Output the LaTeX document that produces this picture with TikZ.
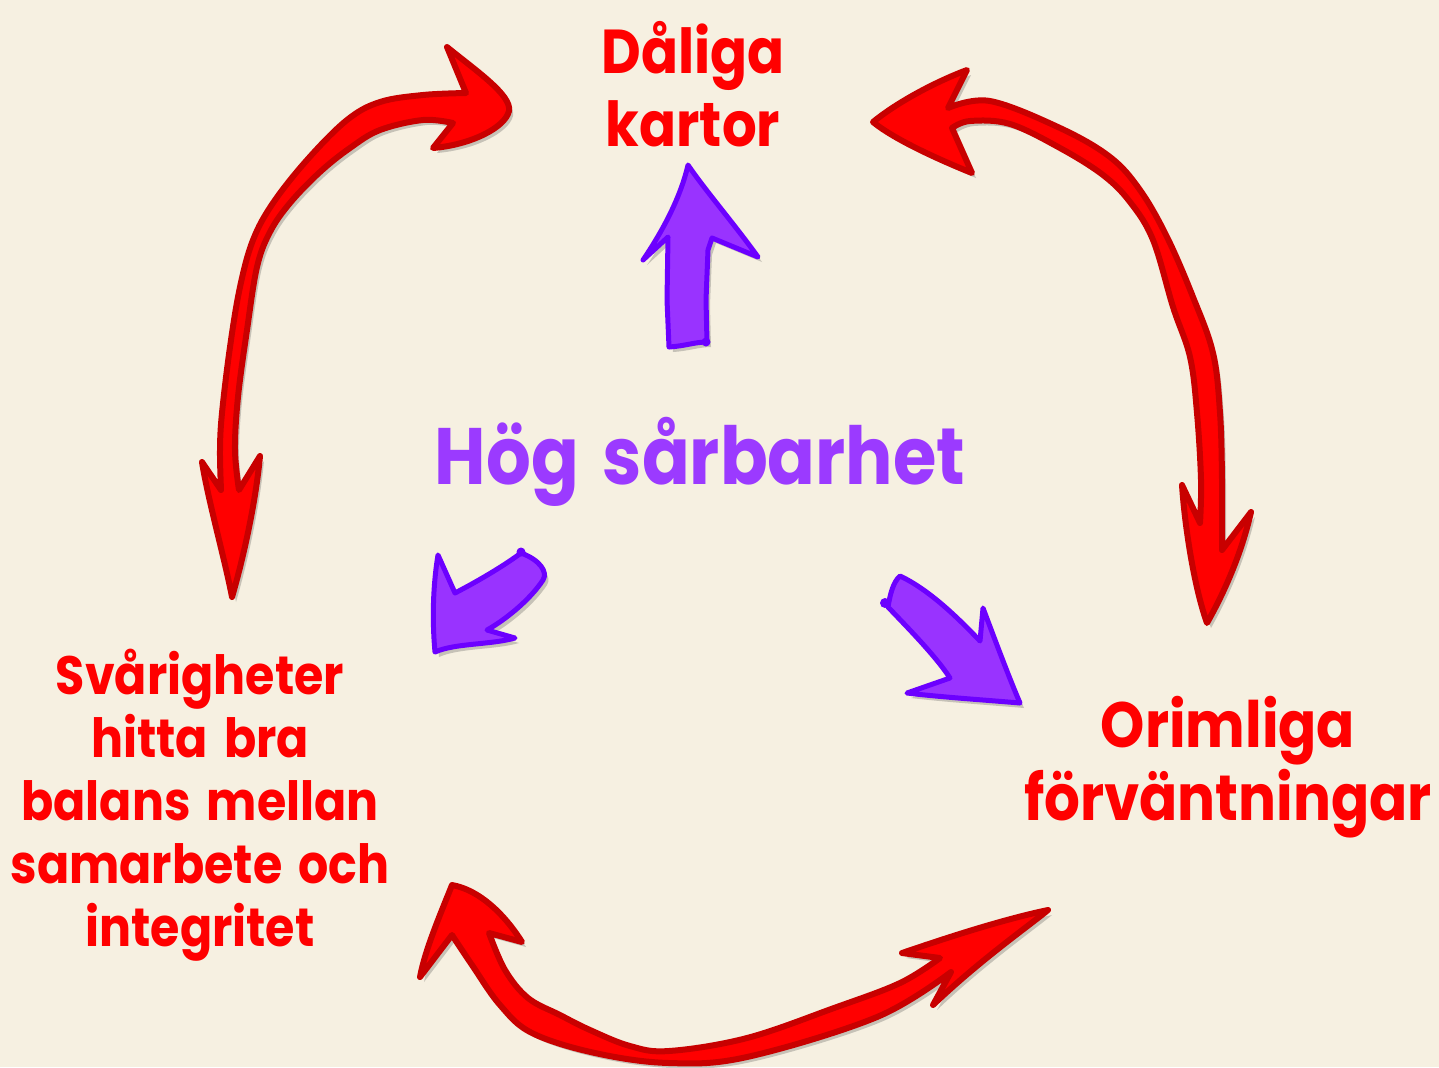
\documentclass[tikz,border=0pt]{standalone}
\usepackage{fontspec}
\setmainfont{Poppins}[FakeStretch=0.88, WordSpace=1.6]
\usetikzlibrary{shadows}

\definecolor{paper}{RGB}{246,240,225}
\definecolor{redfill}{RGB}{255,0,0}
\definecolor{redline}{RGB}{200,0,0}
\definecolor{violetfill}{RGB}{153,51,255}
\definecolor{violetline}{RGB}{108,0,255}
\definecolor{violettext}{RGB}{155,58,255}

\tikzset{
  softshadow/.style={drop shadow={shadow xshift=2pt, shadow yshift=-2.5pt, opacity=0.28, fill=black!70}},
  redarrow/.style={fill=redfill, draw=redline, line width=3pt, line join=round, softshadow},
  violetarrow/.style={fill=violetfill, draw=violetline, line width=2.5pt, line join=round, line cap=round, softshadow},
  tailblob/.style={fill=violetline},
  redlabel/.style={text=redfill, align=center, inner sep=0pt},
  violetlabel/.style={text=violettext, align=center, inner sep=0pt},
}

\begin{document}
\begin{tikzpicture}[x={(0.5pt,0)}, y={(0,-0.5pt)}]
  % paper background
  \fill[paper] (0,0) rectangle (1439,1067);
  \useasboundingbox (0,0) rectangle (1439,1067);

  % ---------- red double-headed arrows ----------
  % left arc: Svårigheter <-> Dåliga kartor
  \path[redarrow] (232,597) .. controls (225,560) and (208,500) .. (202,462) -- (221,490)
    -- plot[smooth, tension=0.6] coordinates {(221,490) (220,450) (222,413) (230,347) (240,287) (253,240) (273,203) (307,160) (347,120) (380,102) (423,95) (466,93)}
    -- (447,47) .. controls (475,70) and (512,95) .. (509,111) .. controls (505,128) and (470,145) .. (433,148)
    -- (453,123)
    -- plot[smooth, tension=0.6] coordinates {(453,123) (423,120) (380,130) (350,148) (320,172) (290,203) (270,232) (257,267) (247,330) (238,397) (235,450) (239,490)}
    -- (260,456) .. controls (255,510) and (240,570) .. (232,597) -- cycle;

  % right arc: Dåliga kartor <-> Orimliga förväntningar
  \path[redarrow] (873,122) .. controls (900,100) and (940,80) .. (967,70) -- (948,108)
    -- plot[smooth, tension=0.6] coordinates {(948,108) (990,101) (1060,128) (1110,157) (1140,190) (1167,237) (1193,297) (1213,353) (1220,413) (1222,480) (1222,550)}
    -- (1251,512) .. controls (1240,560) and (1220,600) .. (1207,623) .. controls (1195,590) and (1185,530) .. (1182,485)
    -- (1200,523)
    -- plot[smooth, tension=0.6] coordinates {(1200,523) (1201,480) (1197,413) (1190,357) (1173,307) (1153,240) (1130,202) (1103,175) (1060,148) (1010,124) (970,121) (952,128)}
    -- (972,173) .. controls (940,160) and (895,140) .. (873,122) -- cycle;

  % bottom arc: Svårigheter <-> Orimliga förväntningar
  \path[redarrow] (452,885) .. controls (440,915) and (425,950) .. (420,977) -- (452,935)
    -- plot[smooth, tension=0.6] coordinates {(452,935) (472,965) (500,1005) (532,1033) (595,1053) (669,1063) (747,1057) (877,1017) (951,972)}
    -- (933,1005) .. controls (980,960) and (1030,925) .. (1048,910) .. controls (1000,920) and (940,940) .. (902,953)
    -- (940,958)
    -- plot[smooth, tension=0.6] coordinates {(940,958) (900,983) (834,1008) (747,1038) (669,1051) (630,1046) (590,1030) (560,1015) (528,998) (505,970) (489,933)}
    -- (522,942) .. controls (505,915) and (480,890) .. (452,885) -- cycle;

  % ---------- violet block arrows ----------
  % up
  \path[violetarrow] (688,165) .. controls (680,200) and (660,235) .. (643,260) -- (668,237)
    -- (667,300) -- (669,347) .. controls (685,346) and (695,342) .. (707,342)
    -- (706,300) -- (708,250) -- (712,238) -- (758,257) .. controls (735,225) and (705,190) .. (688,165) -- cycle;
  \fill[tailblob] (706,342) circle (4.5);

  % down-left
  \path[violetarrow] (435,652) .. controls (432,620) and (433,585) .. (438,555) -- (455,593)
    .. controls (480,580) and (505,565) .. (521,553) .. controls (540,560) and (548,572) .. (543,580)
    .. controls (530,600) and (505,620) .. (487,630) -- (515,638)
    .. controls (490,645) and (455,643) .. (435,652) -- cycle;
  \fill[tailblob] (521,552) circle (4.5);

  % down-right
  \path[violetarrow] (900,576) .. controls (930,590) and (960,620) .. (980,641) -- (983,608)
    .. controls (995,640) and (1010,680) .. (1020,703) .. controls (985,700) and (940,697) .. (907,693)
    -- (950,678) .. controls (935,655) and (905,625) .. (888,607)
    .. controls (890,595) and (893,582) .. (900,576) -- cycle;
  \fill[tailblob] (885,603) circle (5);

  % ---------- labels ----------
  \node[redlabel, font={\fontsize{31pt}{36.5pt}\selectfont\bfseries}] (maps) at (693,84) {Dåliga\\kartor};
  \node[violetlabel, font={\fontsize{40pt}{44pt}\selectfont\bfseries}] (core) at (700,462) {Hög sårbarhet};
  \node[redlabel, font={\fontsize{27pt}{31.5pt}\selectfont\bfseries}] (balance) at (200,805) {Svårigheter\\hitta bra\\balans mellan\\samarbete och\\integritet};
  \node[redlabel, font={\fontsize{32pt}{36.5pt}\selectfont\bfseries}] (expect) at (1228,767) {Orimliga\\förväntningar};
\end{tikzpicture}
\end{document}
